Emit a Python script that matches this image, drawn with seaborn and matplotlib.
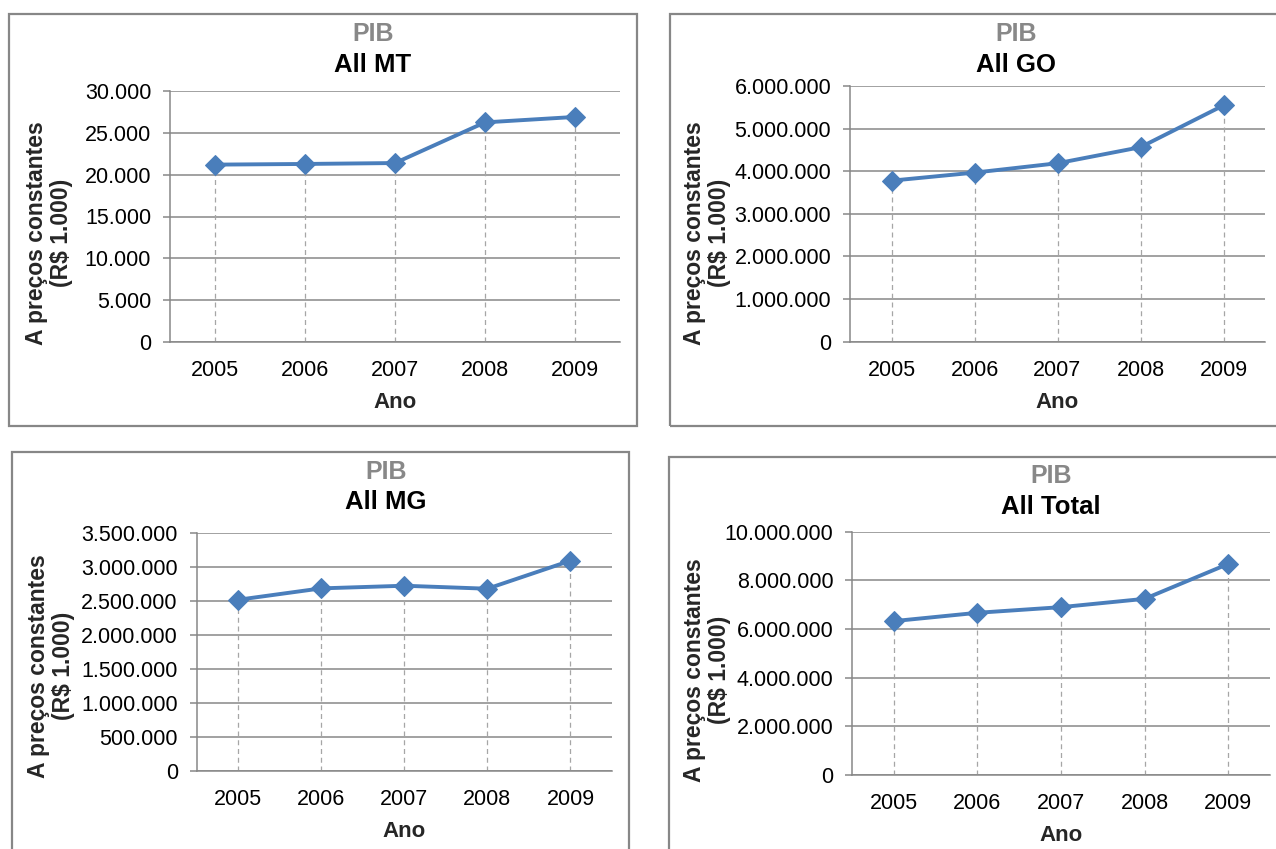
import matplotlib
matplotlib.use("Agg")
import matplotlib.pyplot as plt
import matplotlib.ticker as mticker
from matplotlib.patches import Rectangle
import seaborn as sns

# dados (R$ 1.000, preços constantes)
anos = ["2005", "2006", "2007", "2008", "2009"]
pib_mt = [21200, 21280, 21390, 26250, 26900]
pib_go = [3777000, 3966000, 4186000, 4563000, 5545000]
pib_mg = [2520000, 2688000, 2727000, 2683000, 3096000]
pib_total = [6325000, 6667000, 6899000, 7240000, 8675000]

titulos = ["All MT", "All GO", "All MG", "All Total"]
ylims = [30000, 6000000, 3500000, 10000000]
ysteps = [5000, 1000000, 500000, 2000000]

sns.set_style("white")
plt.rcParams["font.family"] = ["Liberation Sans", "DejaVu Sans"]

W, H = 1276, 849
fig = plt.figure(figsize=(W / 100, H / 100), dpi=100)

AZUL = "#4a7ebb"
CINZA = "#878787"


def fx(x):
    return x / W


def fy(y):
    return 1 - y / H


def milhar(v, pos):
    return f"{int(round(v)):,}".replace(",", ".")


# caixas (px): borda, área do gráfico, títulos, rótulo y
paineis = [
    dict(box=(9, 14, 637, 425.5), plot=(170, 91, 620, 342), tit=373, ty=(34, 65), yl=(49, 233)),
    dict(box=(670, 14, 1300, 425.5), plot=(850, 86, 1265, 341.5), tit=1016, ty=(34, 65), yl=(707, 233)),
    dict(box=(11.5, 452, 628.5, 900), plot=(196.5, 533.3, 612, 770.7), tit=386, ty=(472, 502), yl=(51, 666)),
    dict(box=(669, 457, 1300, 900), plot=(852, 531.7, 1270, 775), tit=1051, ty=(476, 506.5), yl=(707, 670)),
]
series = [pib_mt, pib_go, pib_mg, pib_total]

for p, vals, tit, ymax, step in zip(paineis, series, titulos, ylims, ysteps):
    x0, y0, x1, y1 = p["box"]
    fig.patches.append(Rectangle((fx(x0), fy(y1)), fx(x1 - x0), (y1 - y0) / H,
                                 transform=fig.transFigure, fill=False,
                                 edgecolor=CINZA, linewidth=1.6))
    l, t, r, b = p["plot"]
    ax = fig.add_axes([fx(l), fy(b), fx(r - l), (b - t) / H])

    ax.vlines(anos, 0, vals, colors="#a6a6a6", linestyles=(0, (4, 3)), linewidth=0.9, zorder=1)
    sns.lineplot(x=anos, y=vals, ax=ax, color=AZUL, linewidth=2.8, marker="D",
                 markersize=10, markeredgecolor=AZUL, zorder=3)

    ax.set_xlim(-0.5, 4.5)
    ax.set_ylim(0, ymax)
    ax.yaxis.set_major_locator(mticker.MultipleLocator(step))
    ax.yaxis.set_major_formatter(mticker.FuncFormatter(milhar))
    ax.grid(axis="y", color=CINZA, linewidth=1.1)
    ax.grid(axis="x", visible=False)
    for s in ["top", "right"]:
        ax.spines[s].set_visible(False)
    for s in ["left", "bottom"]:
        ax.spines[s].set_color(CINZA)
        ax.spines[s].set_linewidth(1.1)
    ax.tick_params(axis="y", length=5, width=1.1, color=CINZA, pad=8.5,
                   labelsize=15.5, labelcolor="#000000", left=True)
    ax.tick_params(axis="x", length=0, pad=13, labelsize=15.5, labelcolor="#000000")
    ax.set_xlabel("Ano", fontsize=16, fontweight="bold", labelpad=8)
    ax.set_ylabel("")

    fig.text(fx(p["tit"]), fy(p["ty"][0]), "PIB", ha="center", va="center",
             fontsize=18, fontweight="bold", color="#888888")
    fig.text(fx(p["tit"]), fy(p["ty"][1]), tit, ha="center", va="center",
             fontsize=18.5, fontweight="bold", color="#000000")
    fig.text(fx(p["yl"][0]), fy(p["yl"][1]), "A preços constantes\n(R$ 1.000)",
             rotation=90, ha="center", va="center", multialignment="center",
             fontsize=16.5, fontweight="bold", linespacing=1.1)

fig.savefig("out.png", dpi=100, facecolor="white")
